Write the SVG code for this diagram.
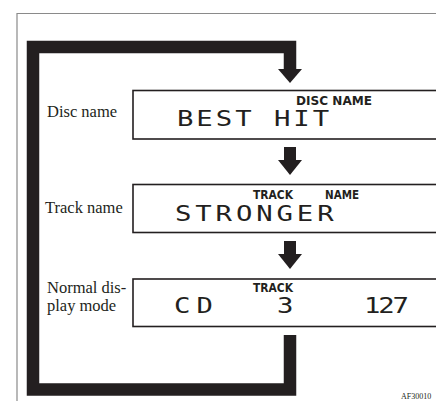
<svg xmlns="http://www.w3.org/2000/svg" width="436" height="401" viewBox="0 0 436 401">
<style>
.lbl{font-family:"Liberation Serif","Times New Roman",serif;font-size:16.5px;fill:#231f20}
.box{fill:#fff;stroke:#231f20;stroke-width:1.6}
.tag{font-family:"DejaVu Sans",sans-serif;font-weight:bold;font-size:11.5px;fill:#231f20}
.lcd{font-family:"DejaVu Sans Mono",monospace;font-size:21px;fill:#231f20}
.blk{fill:#231f20}
</style>
<rect width="436" height="401" fill="#fff"/>
<path d="M17,401 V13.5 H436" fill="none" stroke="#8a8a8a" stroke-width="1.2"/>
<g id="connectors">
  <path d="M290,70 V47 H33 V389.5 H290 V335" fill="none" stroke="#231f20" stroke-width="12.5" stroke-linejoin="miter"/>
  <polygon class="blk" points="278,69 302,69 290,83"/>
  <rect class="blk" x="284" y="147" width="12" height="14"/>
  <polygon class="blk" points="278,160 302,160 290,175"/>
  <rect class="blk" x="284" y="241" width="12" height="14"/>
  <polygon class="blk" points="278,254 302,254 290,269"/>
</g>
<g id="disc-name">
  <text class="lbl" x="47" y="117">Disc name</text>
  <rect class="box" x="133" y="90.5" width="310" height="48.5"/>
  <text class="tag" x="296" y="105" textLength="76" lengthAdjust="spacingAndGlyphs">DISC NAME</text>
  <text class="lcd" transform="translate(177,126) scale(1.3,1)" x="0" y="0" textLength="117" lengthAdjust="spacing">BEST HIT</text>
</g>
<g id="track-name">
  <text class="lbl" x="45" y="213">Track name</text>
  <rect class="box" x="133" y="184.5" width="310" height="48"/>
  <text class="tag" x="253" y="198.5" textLength="40" lengthAdjust="spacingAndGlyphs">TRACK</text>
  <text class="tag" x="325" y="198.5" textLength="34" lengthAdjust="spacingAndGlyphs">NAME</text>
  <text class="lcd" transform="translate(175,221) scale(1.3,1)" x="0" y="0" textLength="122" lengthAdjust="spacing">STRONGER</text>
</g>
<g id="normal-display">
  <text class="lbl" x="47" y="292.5">Normal dis-</text>
  <text class="lbl" x="47" y="311">play mode</text>
  <rect class="box" x="133" y="279" width="310" height="47.5"/>
  <text class="tag" x="253" y="292" textLength="40" lengthAdjust="spacingAndGlyphs">TRACK</text>
  <text class="lcd" transform="translate(174,313) scale(1.3,1)" x="0" y="0" textLength="30" lengthAdjust="spacing">CD</text>
  <text class="lcd" transform="translate(277,313) scale(1.3,1)" x="0" y="0">3</text>
  <text class="lcd" transform="translate(364,313) scale(1.3,1)" x="0" y="0" textLength="34.6" lengthAdjust="spacing">127</text>
</g>
<text x="401" y="399" font-family="Liberation Serif,serif" font-size="8" fill="#231f20">AF30010</text>
</svg>
